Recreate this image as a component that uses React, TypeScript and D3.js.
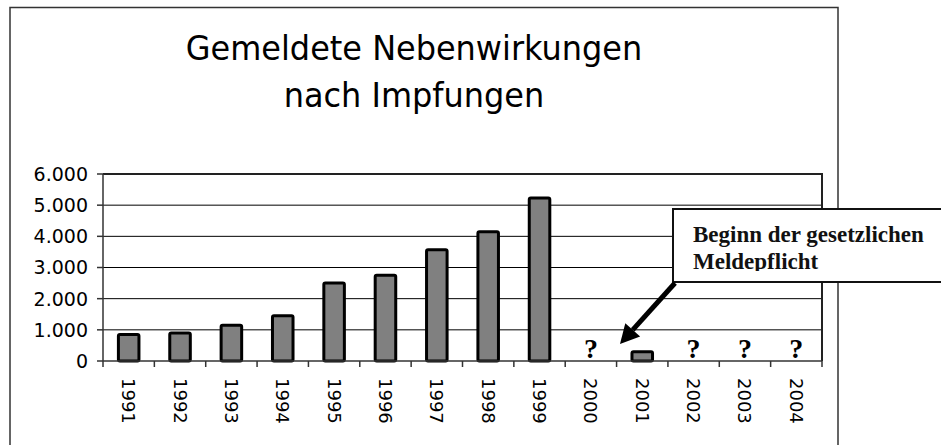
import React from "react";
import * as d3 from "d3";

const years = ["1991", "1992", "1993", "1994", "1995", "1996", "1997", "1998", "1999", "2000", "2001", "2002", "2003", "2004"];
const reports = [850, 900, 1150, 1450, 2500, 2750, 3570, 4150, 5230, null, 300, null, null, null];
const yTicks = [0, 1000, 2000, 3000, 4000, 5000, 6000];
const titleLines = ["Gemeldete Nebenwirkungen", "nach Impfungen"];
const noteLines = ["Beginn der gesetzlichen", "Meldepflicht"];

const W = 941;
const H = 445;
const plot = { left: 103, right: 822, top: 174, bottom: 361 };

const fmt = (v: number) => d3.format(",")(v).replace(/,/g, ".");

export default function App() {
  const x = d3
    .scaleBand<string>()
    .domain(years)
    .range([plot.left, plot.right])
    .paddingInner(0.6)
    .paddingOuter(0.3);
  const step = x.step();
  const y = d3.scaleLinear().domain([0, 6000]).range([plot.bottom, plot.top]);

  const sans = "'DejaVu Sans', Verdana, sans-serif";
  const serif = "'Liberation Serif', 'Times New Roman', serif";

  // arrow from note box toward the 2001 bar
  const ax0 = 675, ay0 = 283, ax1 = 620, ay1 = 344;
  const ang = Math.atan2(ay1 - ay0, ax1 - ax0);
  const headLen = 19, headW = 10;
  const bx = ax1 - headLen * Math.cos(ang);
  const by = ay1 - headLen * Math.sin(ang);
  const px = -Math.sin(ang) * headW;
  const py = Math.cos(ang) * headW;

  const titleX = 414;

  return (
    <svg width={W} height={H} style={{ position: "absolute", left: 0, top: 0, background: "#fff" }}>
      <defs>
        <clipPath id="noteClip">
          <rect x={674} y={210} width={W} height={61} />
        </clipPath>
      </defs>

      {/* outer chart frame */}
      <path d={`M10,${H + 5} V7.5 H838 V${H + 5}`} fill="none" stroke="#333" strokeWidth={1.5} />

      {/* title */}
      <g transform={`translate(${titleX},0) scale(0.94,1)`}>
        {titleLines.map((t, i) => (
          <text key={t} x={0} y={60 + i * 47} textAnchor="middle" fontFamily={sans} fontSize={34} fill="#000">
            {t}
          </text>
        ))}
      </g>

      {/* gridlines */}
      {yTicks.slice(1, -1).map((v) => (
        <line key={v} x1={plot.left} x2={plot.right} y1={y(v)} y2={y(v)} stroke="#000" strokeWidth={1} />
      ))}

      {/* plot frame top + right */}
      <path
        d={`M${plot.left},${plot.top} H${plot.right} V${plot.bottom}`}
        fill="none"
        stroke="#222"
        strokeWidth={2}
      />

      {/* y axis */}
      <line x1={plot.left} x2={plot.left} y1={plot.top} y2={plot.bottom} stroke="#333" strokeWidth={1.5} />
      {yTicks.map((v) => (
        <g key={v}>
          <line x1={plot.left - 6} x2={plot.left} y1={y(v)} y2={y(v)} stroke="#333" strokeWidth={1.5} />
          <text x={88} y={y(v)} dy="0.36em" textAnchor="end" fontFamily={sans} fontSize={19} fill="#000">
            {fmt(v)}
          </text>
        </g>
      ))}

      {/* bars */}
      {years.map((yr, i) => {
        const v = reports[i];
        const cx = (x(yr) as number) + x.bandwidth() / 2;
        if (v == null) {
          return (
            <text key={yr} x={cx} y={plot.bottom - 3} textAnchor="middle" fontFamily={serif} fontWeight="bold" fontSize={28} fill="#000">
              ?
            </text>
          );
        }
        return (
          <rect
            key={yr}
            x={x(yr)}
            y={y(v)}
            width={x.bandwidth()}
            height={plot.bottom - y(v)}
            fill="#808080"
            stroke="#000"
            strokeWidth={3}
            strokeLinejoin="round"
            rx={1.5}
          />
        );
      })}

      {/* x axis */}
      <line x1={plot.left} x2={plot.right} y1={plot.bottom} y2={plot.bottom} stroke="#333" strokeWidth={1.5} />
      {d3.range(years.length + 1).map((i) => {
        const tx = plot.left + i * step;
        return <line key={i} x1={tx} x2={tx} y1={plot.bottom} y2={plot.bottom + 6} stroke="#333" strokeWidth={1.5} />;
      })}
      {years.map((yr) => {
        const cx = (x(yr) as number) + x.bandwidth() / 2;
        return (
          <text
            key={yr}
            transform={`translate(${cx},378) rotate(90)`}
            dy="0.36em"
            fontFamily={sans}
            fontSize={18}
            fill="#000"
          >
            {yr}
          </text>
        );
      })}

      {/* note box */}
      <rect x={673} y={209} width={W} height={73} fill="#fff" stroke="#111" strokeWidth={2} />
      <g clipPath="url(#noteClip)">
        {noteLines.map((t, i) => (
          <text key={t} x={693} y={242 + i * 27} fontFamily={serif} fontWeight="bold" fontSize={23} fill="#111">
            {t}
          </text>
        ))}
      </g>

      {/* arrow */}
      <line x1={ax0} y1={ay0} x2={bx} y2={by} stroke="#000" strokeWidth={5} />
      <polygon points={`${ax1},${ay1} ${bx + px},${by + py} ${bx - px},${by - py}`} fill="#000" />
    </svg>
  );
}
